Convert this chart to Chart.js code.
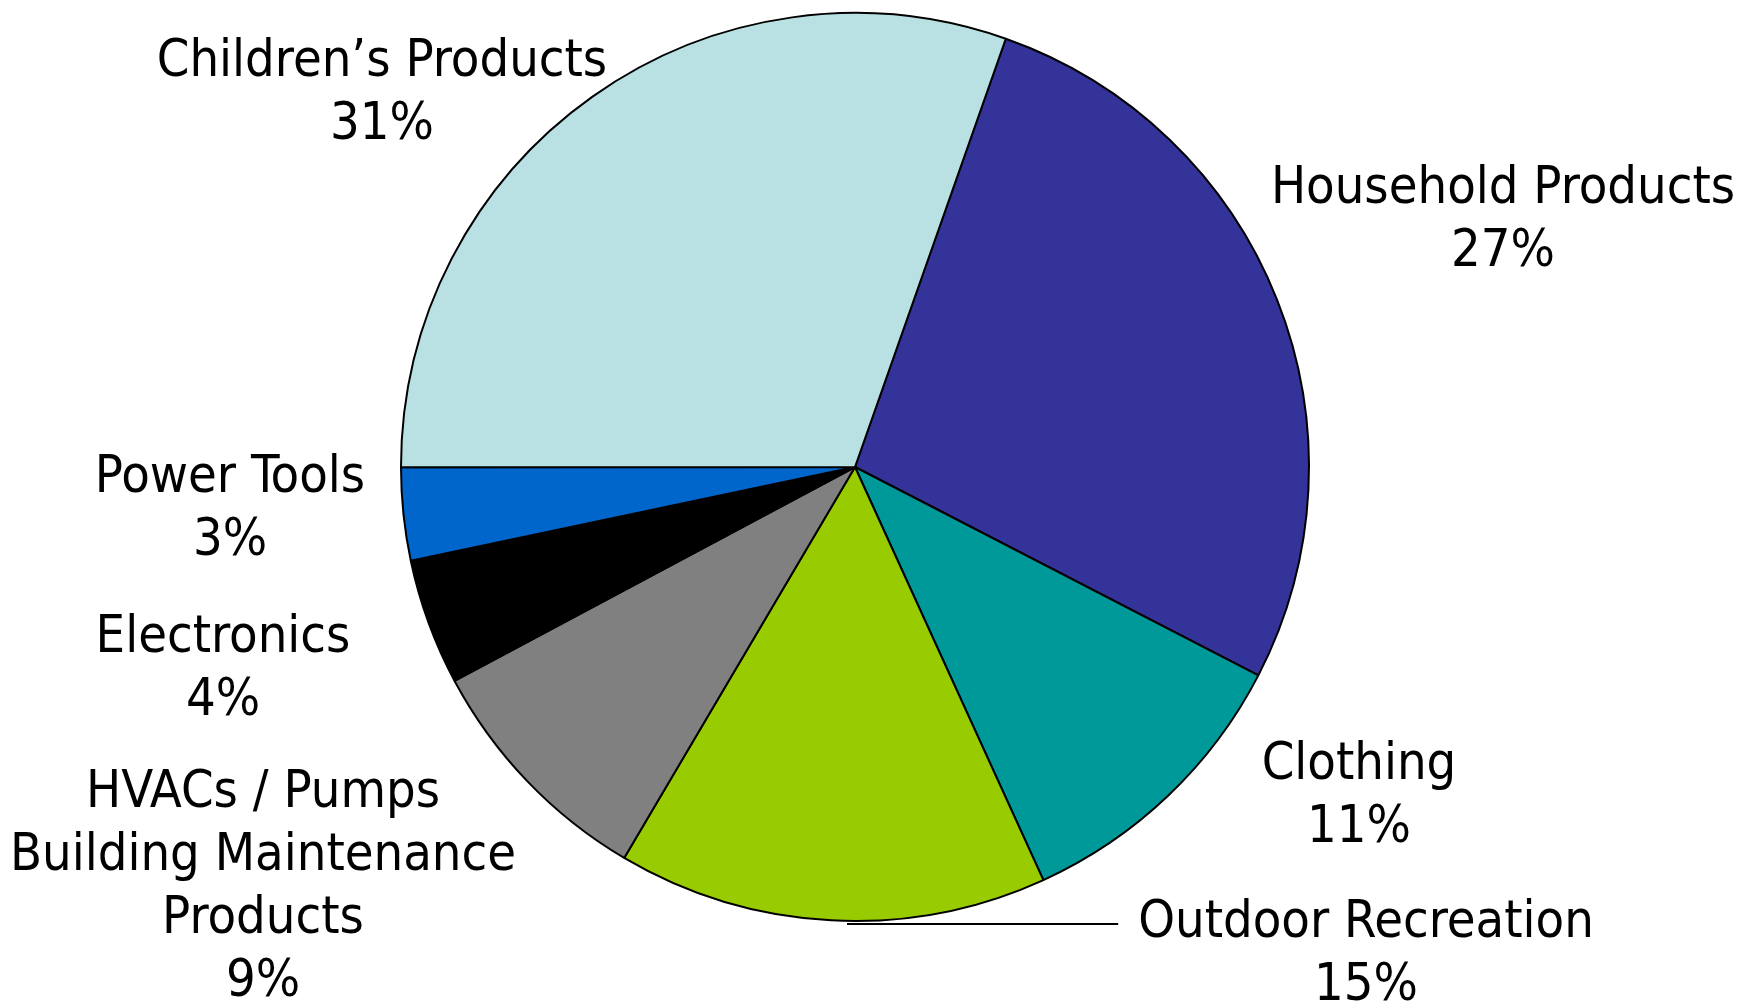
<!DOCTYPE html>
<html>
<head>
<meta charset="utf-8">
<script src="https://cdn.jsdelivr.net/npm/chart.js@4"></script>
<style>
  html, body { margin: 0; padding: 0; background: #ffffff; }
  #wrap { width: 1758px; height: 1004px; }
</style>
</head>
<body>
<div id="wrap"><canvas id="c" width="1758" height="1004"></canvas></div>
<script>
// Categories (clockwise, starting at the top-right edge of Household Products)
const categories = [
  "Household Products",
  "Clothing",
  "Outdoor Recreation",
  "HVACs / Pumps Building Maintenance Products",
  "Electronics",
  "Power Tools",
  "Children\u2019s Products"
];
// Slice shares (%)
const sliceValues = [27.2, 10.6, 15.3, 8.7, 4.5, 3.3, 30.4];
// Percent labels as printed on the chart
const percentLabels = ["27%", "11%", "15%", "9%", "4%", "3%", "31%"];
// Label text lines (category names as wrapped on the chart)
const labelLines = [
  ["Household Products"],
  ["Clothing"],
  ["Outdoor Recreation"],
  ["HVACs / Pumps", "Building Maintenance", "Products"],
  ["Electronics"],
  ["Power Tools"],
  ["Children\u2019s Products"]
];
const sliceColors = ["#333399", "#009999", "#99CC00", "#808080", "#000000", "#0066CC", "#B9E0E3"];

// Label placement (layout only): centre x and first baseline y
const labelPlacement = [
  {x: 1503, y: 203},
  {x: 1359, y: 779},
  {x: 1366, y: 937},
  {x: 263,  y: 807},
  {x: 223,  y: 652},
  {x: 230,  y: 492},
  {x: 382,  y: 76}
];
const LINE_H = 63;
const FONT = '52px "DejaVu Sans Condensed", "DejaVu Sans", sans-serif';

const labelPlugin = {
  id: 'sliceLabels',
  afterDatasetsDraw(chart) {
    const ctx = chart.ctx;
    const meta = chart.getDatasetMeta(0);
    ctx.save();
    ctx.fillStyle = '#000';
    ctx.font = FONT;
    ctx.textAlign = 'center';
    ctx.textBaseline = 'alphabetic';
    labelLines.forEach((lines, i) => {
      const p = labelPlacement[i];
      const all = lines.concat([percentLabels[i]]);
      all.forEach((t, k) => ctx.fillText(t, p.x, p.y + k * LINE_H));
    });
    // leader line for Outdoor Recreation
    const arc = meta.data[2];
    const w = ctx.measureText(labelLines[2][0]).width;
    const yLine = arc.y + arc.outerRadius + 3;
    ctx.strokeStyle = '#000';
    ctx.lineWidth = 2;
    ctx.beginPath();
    ctx.moveTo(arc.x - 8, yLine);
    ctx.lineTo(labelPlacement[2].x - w / 2 - 20, yLine);
    ctx.stroke();
    ctx.restore();
  }
};

new Chart(document.getElementById('c'), {
  type: 'pie',
  data: {
    labels: categories,
    datasets: [{
      data: sliceValues,
      backgroundColor: sliceColors,
      borderColor: '#000000',
      borderWidth: 2
    }]
  },
  options: {
    responsive: false,
    animation: false,
    rotation: 19.4,
    layout: { padding: { left: 400, right: 448, top: 12, bottom: 82 } },
    plugins: {
      legend: { display: false },
      tooltip: { enabled: false },
      title: { display: false }
    }
  },
  plugins: [labelPlugin]
});
</script>
</body>
</html>
